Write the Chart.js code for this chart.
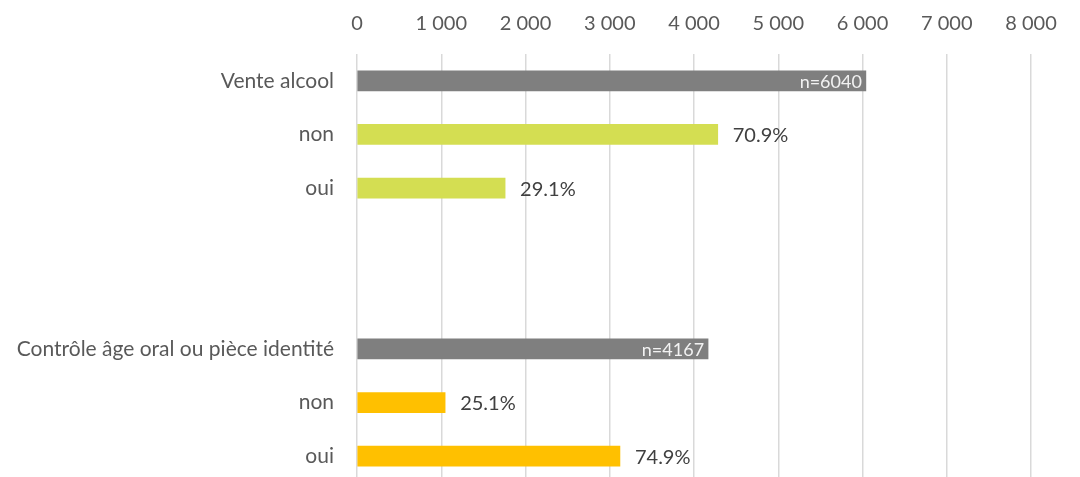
<!DOCTYPE html>
<html>
<head>
<meta charset="utf-8">
<script src="https://cdn.jsdelivr.net/npm/chart.js@4/dist/chart.umd.min.js"></script>
<style>
  html, body { margin: 0; padding: 0; background: #fff; overflow: hidden; }
  canvas { display: block; }
</style>
</head>
<body>
<canvas id="chart" width="1080" height="483"></canvas>
<script>
// --- Données ---
const categories = ['Vente alcool', 'non', 'oui', '', '', 'Contrôle âge oral ou pièce identité', 'non', 'oui'];
const values = [6040, 4282, 1758, null, null, 4167, 1046, 3121];
// étiquettes affichées à côté des barres ('' = aucune)
const pctLabels = ['', '70.9%', '29.1%', '', '', '', '25.1%', '74.9%'];
const isTotal = [true, false, false, false, false, true, false, false];
const barColors = ['#7f7f7f', '#d4de52', '#d4de52', '#fff', '#fff', '#7f7f7f', '#ffc000', '#ffc000'];
const xTicks = [0, 1000, 2000, 3000, 4000, 5000, 6000, 7000, 8000];

const FONT = 'Lato, "Open Sans", sans-serif';

// Étiquettes des barres (n=... à l'intérieur, % à l'extérieur)
const barLabels = {
  id: 'barLabels',
  afterDatasetsDraw(chart) {
    const ctx = chart.ctx;
    const meta = chart.getDatasetMeta(0);
    ctx.save();
    ctx.textBaseline = 'middle';
    meta.data.forEach((bar, i) => {
      if (values[i] == null) return;
      if (isTotal[i]) {
        ctx.font = '18px ' + FONT;
        ctx.fillStyle = '#f2f2f2';
        ctx.textAlign = 'right';
        ctx.fillText('n=' + values[i], bar.x - 4, bar.y + 1);
      } else if (pctLabels[i]) {
        ctx.font = '20px ' + FONT;
        ctx.fillStyle = '#404040';
        ctx.textAlign = 'left';
        ctx.fillText(pctLabels[i], bar.x + 15, bar.y + 1);
      }
    });
    ctx.restore();
  }
};

new Chart(document.getElementById('chart'), {
  type: 'bar',
  data: {
    labels: categories,
    datasets: [{
      data: values,
      backgroundColor: barColors,
      barThickness: 20
    }]
  },
  options: {
    indexAxis: 'y',
    responsive: false,
    animation: false,
    layout: { padding: { top: 0, right: 49, bottom: 0, left: 0 } },
    plugins: {
      legend: { display: false },
      tooltip: { enabled: false }
    },
    scales: {
      x: {
        position: 'top',
        min: 0,
        max: 8000,
        afterBuildTicks: (scale) => { scale.ticks = xTicks.map(v => ({ value: v })); },
        afterFit: (scale) => { scale.height = 54; },
        border: { display: false },
        grid: { color: '#d9d9d9', lineWidth: 1.5, drawTicks: false },
        ticks: {
          padding: 18,
          color: '#595959',
          font: { family: FONT, size: 20 },
          callback: (v) => String(v).replace(/\B(?=(\d{3})+(?!\d))/g, ' ')
        }
      },
      y: {
        afterFit: (scale) => {
          scale.width = 357;
          scale.paddingTop = 0;
          scale.paddingBottom = 0;
        },
        border: { display: false },
        grid: { display: false },
        ticks: {
          padding: 15,
          color: '#595959',
          font: { family: FONT, size: 21 }
        }
      }
    }
  },
  plugins: [barLabels]
});
</script>
</body>
</html>
